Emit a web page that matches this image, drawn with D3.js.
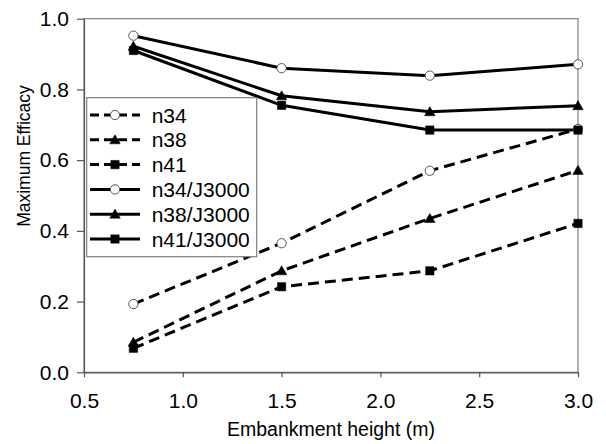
<!DOCTYPE html>
<html>
<head>
<meta charset="utf-8">
<script src="https://cdn.jsdelivr.net/npm/d3@7"></script>
<style>
  body { margin: 0; background: #fff; }
  svg text { font-family: Arial, "Liberation Sans", sans-serif; fill: #000; }
</style>
</head>
<body>
<div id="chart"></div>
<script>
// embankment heights (m)
var heights = [0.75, 1.5, 2.25, 3.0];

// maximum efficacy
var n34      = [0.193, 0.365, 0.570, 0.688];
var n38      = [0.085, 0.287, 0.435, 0.571];
var n41      = [0.068, 0.242, 0.287, 0.421];
var n34J3000 = [0.952, 0.860, 0.839, 0.871];
var n38J3000 = [0.922, 0.782, 0.737, 0.754];
var n41J3000 = [0.910, 0.755, 0.685, 0.685];

var xTicks = [0.5, 1.0, 1.5, 2.0, 2.5, 3.0];
var yTicks = [0.0, 0.2, 0.4, 0.6, 0.8, 1.0];

var seriesNames = ["n34", "n38", "n41", "n34/J3000", "n38/J3000", "n41/J3000"];
var seriesVals  = [n34, n38, n41, n34J3000, n38J3000, n41J3000];
var seriesMark  = ["circle", "triangle", "square", "circle", "triangle", "square"];
var seriesDash  = [true, true, true, false, false, false];

var W = 606, H = 444;
var svg = d3.select("#chart").append("svg")
    .attr("width", W)
    .attr("height", H);

var x = d3.scaleLinear().domain([0.5, 3.0]).range([84, 578]);
var y = d3.scaleLinear().domain([0, 1]).range([372.3, 18.7]);

// plot frame
svg.append("rect")
    .attr("x", x(0.5)).attr("y", y(1))
    .attr("width", x(3) - x(0.5)).attr("height", y(0) - y(1))
    .attr("fill", "none").attr("stroke", "#808080").attr("stroke-width", 1.2);

var xAxis = svg.append("g")
    .attr("transform", "translate(0," + y(0) + ")")
    .call(d3.axisBottom(x).tickValues(xTicks).tickFormat(d3.format(".1f"))
        .tickSize(5).tickSizeOuter(0).tickPadding(16));

var yAxis = svg.append("g")
    .attr("transform", "translate(" + x(0.5) + ",0)")
    .call(d3.axisLeft(y).tickValues(yTicks).tickFormat(d3.format(".1f"))
        .tickSize(7).tickSizeOuter(0).tickPadding(8));

[xAxis, yAxis].forEach(function(g){
  g.select(".domain").attr("stroke", "#555").attr("stroke-width", 1.2);
  g.selectAll(".tick line").attr("stroke", "#555").attr("stroke-width", 1.2);
  g.selectAll(".tick text").attr("font-size", 21)
    .attr("font-family", "Arial, 'Liberation Sans', sans-serif").attr("fill", "#000");
});

// axis titles
svg.append("text")
    .attr("x", (x(0.5) + x(3)) / 2)
    .attr("y", 436)
    .attr("text-anchor", "middle")
    .attr("font-size", 19.5)
    .text("Embankment height (m)");

svg.append("text")
    .attr("transform", "translate(30,156) rotate(-90)")
    .attr("text-anchor", "middle")
    .attr("font-size", 17.5)
    .text("Maximum Efficacy");

function symbolFor(kind) {
  if (kind === "circle") return d3.symbol().type(d3.symbolCircle).size(68)();
  if (kind === "triangle") return d3.symbol().type(d3.symbolTriangle).size(48)();
  return d3.symbol().type(d3.symbolSquare).size(70)();
}

function drawMarker(g, kind, cx, cy) {
  g.append("path")
    .attr("d", symbolFor(kind))
    .attr("transform", "translate(" + cx + "," + (kind === "triangle" ? cy + 1 : cy) + ")")
    .attr("fill", kind === "circle" ? "#fff" : "#000")
    .attr("stroke", kind === "circle" ? "#555" : "#000")
    .attr("stroke-width", kind === "circle" ? 1 : 0.5);
}

var line = d3.line()
    .x(function(d){ return x(d[0]); })
    .y(function(d){ return y(d[1]); });

var plot = svg.append("g");
seriesNames.forEach(function(name, i){
  var pts = heights.map(function(h, j){ return [h, seriesVals[i][j]]; });
  plot.append("path")
    .datum(pts)
    .attr("d", line)
    .attr("fill", "none")
    .attr("stroke", "#000")
    .attr("stroke-width", 3)
    .attr("stroke-dasharray", seriesDash[i] ? "11,6" : null);
});
seriesNames.forEach(function(name, i){
  heights.forEach(function(h, j){
    drawMarker(plot, seriesMark[i], x(h), y(seriesVals[i][j]));
  });
});

// legend
var lg = svg.append("g");
lg.append("rect")
    .attr("x", 86.7).attr("y", 97.7)
    .attr("width", 170).attr("height", 159)
    .attr("fill", "#fff").attr("stroke", "#808080").attr("stroke-width", 1.2);

seriesNames.forEach(function(name, i){
  var cy = 115 + i * 24.8;
  lg.append("line")
    .attr("x1", 90).attr("x2", 140)
    .attr("y1", cy).attr("y2", cy)
    .attr("stroke", "#000").attr("stroke-width", 3)
    .attr("stroke-dasharray", seriesDash[i] ? "9,5" : null);
  drawMarker(lg, seriesMark[i], 115, cy);
  lg.append("text")
    .attr("x", 151.7).attr("y", cy + 7.5)
    .attr("font-size", 21)
    .text(name);
});
</script>
</body>
</html>
